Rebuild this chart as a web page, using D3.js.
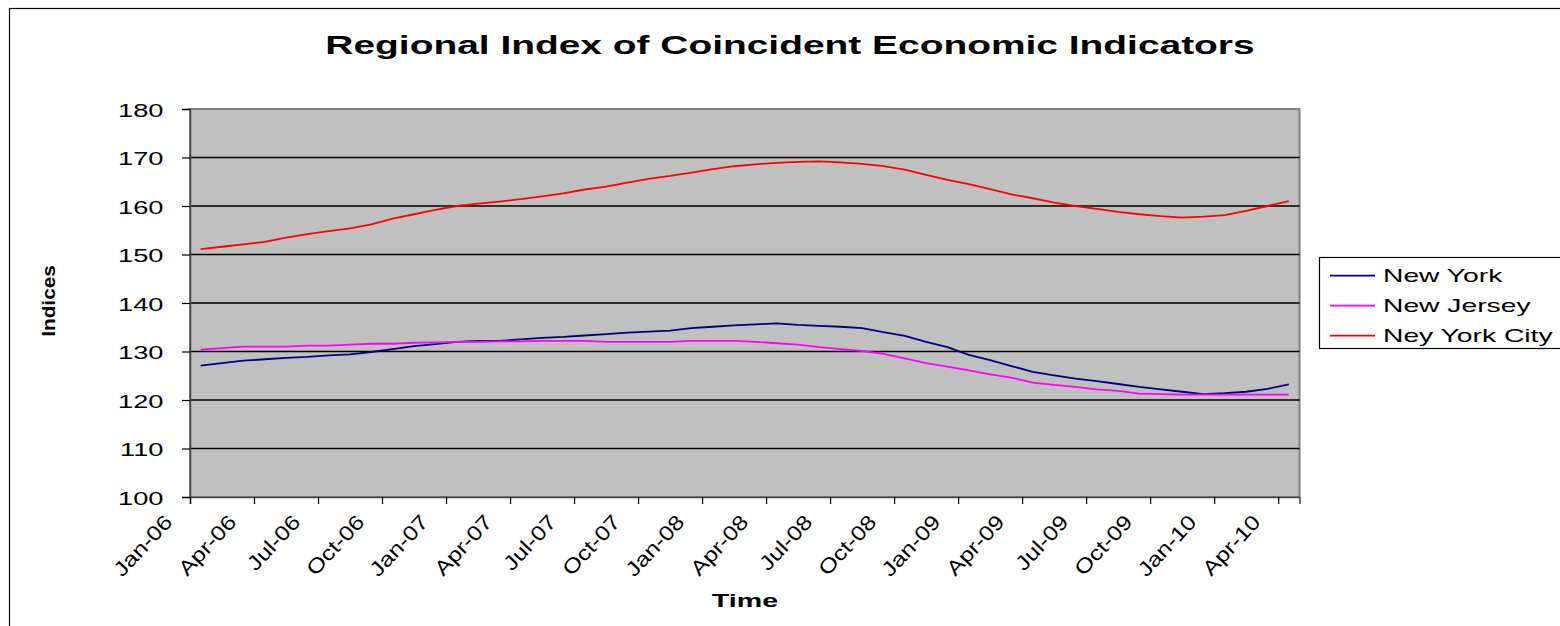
<!DOCTYPE html>
<html>
<head>
<meta charset="utf-8">
<script src="https://cdn.jsdelivr.net/npm/d3@7"></script>
<style>
  body { margin: 0; background: #fff; }
  text { font-family: "Liberation Sans", Arial, sans-serif; }
</style>
</head>
<body>
<script>
// monthly data, Jan-06 .. Apr-10
var months = d3.timeMonths(new Date(2006, 0, 1), new Date(2010, 4, 1));

var newYork = [127.1,127.6,128.1,128.4,128.7,128.9,129.2,129.4,129.9,130.5,131.1,131.5,
               132.0,132.2,132.2,132.5,132.8,133.0,133.3,133.6,133.9,134.1,134.3,134.8,
               135.1,135.4,135.6,135.8,135.5,135.3,135.1,134.8,134.0,133.2,132.0,130.9,
               129.3,128.2,127.0,125.8,125.1,124.4,123.9,123.3,122.7,122.2,121.7,121.2,
               121.4,121.7,122.3,123.2];
var newJersey = [130.4,130.7,131.0,131.0,131.0,131.2,131.2,131.4,131.6,131.6,131.8,131.9,
                 132.0,132.0,132.1,132.1,132.2,132.2,132.2,132.0,132.0,132.0,132.0,132.2,
                 132.2,132.2,132.0,131.7,131.4,130.9,130.5,130.1,129.5,128.6,127.6,126.9,
                 126.1,125.3,124.6,123.6,123.1,122.7,122.2,121.9,121.3,121.2,121.1,121.1,
                 121.1,121.1,121.1,121.1];
var nyCity = [151.1,151.6,152.1,152.6,153.5,154.2,154.8,155.4,156.2,157.4,158.3,159.2,
              160.0,160.5,160.9,161.4,162.0,162.6,163.4,164.0,164.8,165.6,166.2,166.9,
              167.6,168.2,168.6,168.9,169.1,169.2,169.0,168.7,168.2,167.5,166.4,165.4,
              164.5,163.5,162.4,161.6,160.7,160.0,159.4,158.8,158.3,157.9,157.6,157.8,
              158.1,159.0,160.0,161.0];

var seriesNames = ["New York", "New Jersey", "Ney York City"];
var seriesColors = ["#000080", "#ff00ff", "#ff0000"];
var seriesData = [newYork, newJersey, nyCity];
var yTicks = [100,110,120,130,140,150,160,170,180];

var W = 1560, H = 626;
var plotL = 190, plotR = 1299.5, plotT = 109, plotB = 497;

var svg = d3.select("body").append("svg").attr("width", W).attr("height", H);

// outer chart frame (runs off the right and bottom edges)
svg.append("rect").attr("x", 9.5).attr("y", 8.5).attr("width", 1580).attr("height", 640)
   .attr("fill", "none").attr("stroke", "#000").attr("stroke-width", 1.2);

var x = d3.scaleLinear().domain([0, months.length]).range([plotL, plotR]);
var y = d3.scaleLinear().domain([100, 180]).range([plotB, plotT]);

// plot area
svg.append("rect").attr("x", plotL).attr("y", plotT)
   .attr("width", plotR - plotL).attr("height", plotB - plotT)
   .attr("fill", "#c0c0c0").attr("stroke", "#808080").attr("stroke-width", 2);

// gridlines
svg.append("g").selectAll("line").data(yTicks.slice(1, -1)).enter().append("line")
   .attr("x1", plotL).attr("x2", plotR)
   .attr("y1", function(d){ return y(d); }).attr("y2", function(d){ return y(d); })
   .attr("stroke", "#000").attr("stroke-width", 1.3);

// y axis
var yAxis = svg.append("g").attr("transform", "translate(" + plotL + ",0)")
   .call(d3.axisLeft(y).tickValues(yTicks).tickSize(8).tickFormat(d3.format("d")));
yAxis.select(".domain").attr("stroke", "#444").attr("stroke-width", 1.5);
yAxis.selectAll(".tick line").attr("stroke", "#000").attr("stroke-width", 1.2);
yAxis.selectAll(".tick text")
     .attr("x", null).attr("dy", null)
     .attr("transform", "translate(-26.5,7) scale(1.42,1)")
     .attr("text-anchor", "end").attr("font-size", 19.2).attr("fill", "#000")
     .style("font-family", "'Liberation Sans', Arial, sans-serif");

// x axis
var fmt = d3.timeFormat("%b-%y");
var xAxis = svg.append("g").attr("transform", "translate(0," + plotB + ")")
   .call(d3.axisBottom(x).tickValues(d3.range(0, months.length, 3)).tickSize(7)
           .tickFormat(function(i){ return fmt(months[i]); }));
xAxis.select(".domain").attr("stroke", "#444").attr("stroke-width", 1.5);
xAxis.selectAll(".tick line").attr("stroke", "#000").attr("stroke-width", 1.2);
xAxis.selectAll(".tick text")
     .attr("y", null).attr("dy", null)
     .attr("transform", "translate(-17,26) rotate(-47) scale(1.2,1)")
     .attr("text-anchor", "end").attr("font-size", 20.5).attr("fill", "#000")
     .style("font-family", "'Liberation Sans', Arial, sans-serif");

// series lines
var line = d3.line()
   .x(function(d, i){ return x(i + 0.5); })
   .y(function(d){ return y(d); });

svg.append("g").selectAll("path").data(seriesData).enter().append("path")
   .attr("d", line)
   .attr("fill", "none")
   .attr("stroke", function(d, i){ return seriesColors[i]; })
   .attr("stroke-width", 1.8);

// title and axis titles
svg.append("text").text("Regional Index of Coincident Economic Indicators")
   .attr("transform", "translate(790,54.3) scale(1.52,1)")
   .attr("text-anchor", "middle").attr("font-size", 25.6).attr("font-weight", "bold");

svg.append("text").text("Time")
   .attr("transform", "translate(745,606.7) scale(1.54,1)")
   .attr("text-anchor", "middle").attr("font-size", 18.6).attr("font-weight", "bold");

svg.append("text").text("Indices")
   .attr("transform", "translate(55,301) rotate(-90) scale(1.12,1)")
   .attr("text-anchor", "middle").attr("font-size", 18.6).attr("font-weight", "bold");

// legend
var legend = svg.append("g");
legend.append("rect").attr("x", 1319.5).attr("y", 257.5).attr("width", 250).attr("height", 91)
      .attr("fill", "#fff").attr("stroke", "#000").attr("stroke-width", 1.2);
var items = legend.selectAll("g.item").data(seriesNames).enter().append("g").attr("class", "item")
      .attr("transform", function(d, i){ return "translate(0," + (275.7 + i * 30) + ")"; });
items.append("line").attr("x1", 1330).attr("x2", 1375).attr("y1", 0).attr("y2", 0)
     .attr("stroke", function(d, i){ return seriesColors[i]; }).attr("stroke-width", 1.8);
items.append("text").text(function(d){ return d; })
     .attr("transform", "translate(1383,6) scale(1.52,1)")
     .attr("font-size", 18.6).attr("fill", "#000");
</script>
</body>
</html>
